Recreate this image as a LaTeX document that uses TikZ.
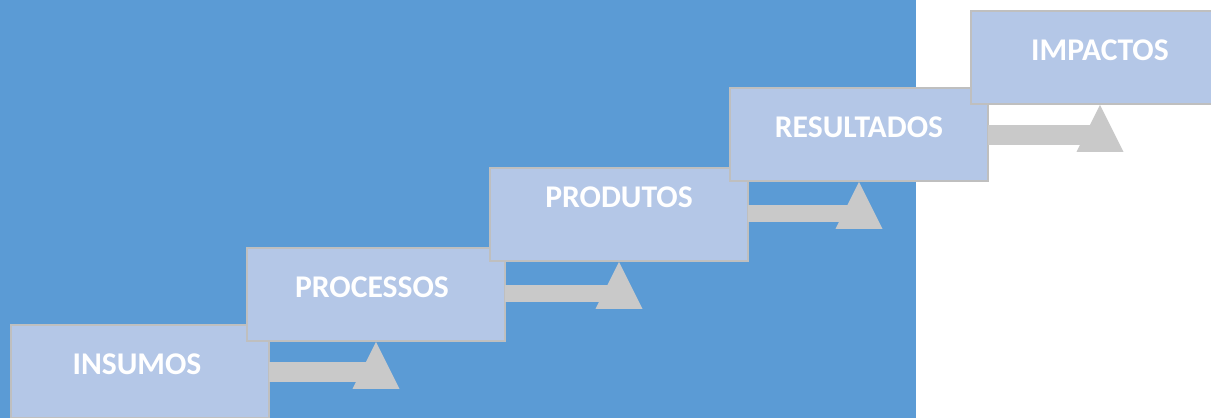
\documentclass[tikz,border=0pt]{standalone}
\usepackage{fontspec}
\setmainfont{Carlito}
\usetikzlibrary{calc}
\definecolor{bgblue}{HTML}{5B9BD5}
\definecolor{boxfill}{HTML}{B4C7E7}
\definecolor{boxline}{HTML}{BFBFBF}
\definecolor{arrgray}{HTML}{C9C9C9}
\begin{document}
\begin{tikzpicture}[x=0.02cm,y=-0.02cm,
  stagebox/.style={draw=boxline,fill=boxfill,line width=1.1pt,minimum width=5.16cm,minimum height=1.86cm,inner sep=0pt},
  stagetext/.style={anchor=base,text=white,font=\fontsize{18}{20}\selectfont\bfseries,inner sep=0pt},
  arr/.style={fill=arrgray}]
\clip (0,0) rectangle (1211,418);
\fill[bgblue] (0,0) rectangle (916,418);
\node[stagebox] (b1) at (140,371.5) {};
\node[stagebox] (b2) at (376,294.5) {};
\node[stagebox] (b3) at (619,214.5) {};
\node[stagebox] (b4) at (859,134.5) {};
\node[stagebox] (b5) at (1100,57.5) {};
\node[stagetext] (t1) at ($(b1.north)+(-3,50)$) {INSUMOS};
\node[stagetext] (t2) at ($(b2.north)+(-4,50)$) {PROCESSOS};
\node[stagetext] (t3) at ($(b3.north)+(0,40)$) {PRODUTOS};
\node[stagetext] (t4) at ($(b4.north)+(0,50)$) {RESULTADOS};
\node[stagetext] (t5) at ($(b5.north)+(0,50)$) {IMPACTOS};
\foreach \a/\b in {b1/b2,b2/b3,b3/b4,b4/b5}{
  \fill[arr] ($(\a.north east)+(-0.5,38)$) rectangle ($(\b.south)+(0,40)$);
  \fill[arr] (\b.south) -- ++(23.5,47) -- ++(-47,0) -- cycle;
}
\end{tikzpicture}
\end{document}
